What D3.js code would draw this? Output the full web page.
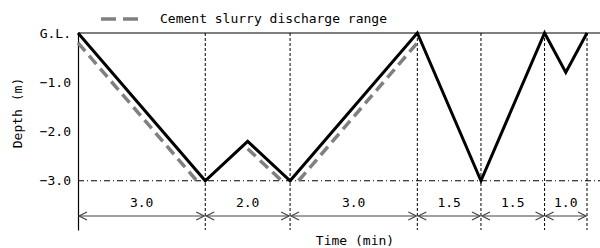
<!DOCTYPE html>
<html><head><meta charset="utf-8">
<script src="https://cdn.jsdelivr.net/npm/d3@7"></script>
<style>
html,body{margin:0;padding:0;background:#fff;}
svg{display:block;}
text{font-family:"DejaVu Sans Mono",monospace;font-size:13px;fill:#000;}
</style></head>
<body><svg id="c" width="600" height="248"></svg>
<script>
// Data
const segLabels = ["3.0","2.0","3.0","1.5","1.5","1.0"];
const segDurations = [3.0, 2.0, 3.0, 1.5, 1.5, 1.0];
const boreTime  = [0, 3, 4, 5, 8, 9.5, 11, 11.5, 12];
const boreDepth = [0, -3, -2.2, -3, 0, -3, 0, -0.8, 0];
// slurry discharge range: three separate runs (NaN = break)
const slurryTime  = [0, 2.8, NaN, 4.0, 4.8, NaN, 5.2, 8];
const slurryDepth = [-0.2, -3, NaN, -2.35, -3, NaN, -3, -0.2];
const yTickValues = [0, -1, -2, -3];
const yTickLabels = ["G.L.", "\u22121.0", "\u22122.0", "\u22123.0"];
const legendLabel = "Cement slurry discharge range";
const xTitle = "Time (min)";
const yTitle = "Depth (m)";

const svg = d3.select("#c");
const W = 600;
const x = d3.scaleLinear().domain([0, d3.sum(segDurations)]).range([78, 587]);
const y = d3.scaleLinear().domain([0, -4]).range([33, 230]);

const bounds = [0];
segDurations.forEach((d, i) => bounds.push(bounds[i] + d));

// top ground line
svg.append("line").attr("x1", x(0)).attr("x2", W).attr("y1", y(0)).attr("y2", y(0))
  .attr("stroke", "#000").attr("stroke-width", 1.2);

// -3.0 dash-dot line
svg.append("line").attr("x1", x(0)).attr("x2", W).attr("y1", y(-3)).attr("y2", y(-3))
  .attr("stroke", "#000").attr("stroke-width", 1).attr("stroke-dasharray", "6,3,1,3");

// vertical dashed lines
svg.selectAll(".vl").data(bounds.slice(1)).enter().append("line")
  .attr("x1", d => x(d)).attr("x2", d => x(d)).attr("y1", y(0)).attr("y2", y(-4))
  .attr("stroke", "#000").attr("stroke-width", 1).attr("stroke-dasharray", "3,2");

// y axis
const yAxis = d3.axisLeft(y).tickValues(yTickValues)
  .tickFormat((d, i) => yTickLabels[i]).tickSize(0).tickPadding(7);
const ga = svg.append("g").attr("transform", `translate(${x(0)},0)`).call(yAxis);
ga.select(".domain").attr("stroke", "#000").attr("stroke-width", 1.2);
ga.selectAll("text").style("font-family", "DejaVu Sans Mono, monospace").style("font-size", "13px");

// dimension arrows
const dimY = 216;
const dimColor = "#444";
const segs = segDurations.map((d, i) => ({a: bounds[i], b: bounds[i + 1], label: segLabels[i]}));
const dg = svg.append("g");
segs.forEach(s => {
  const x1 = x(s.a) + 1, x2 = x(s.b) - 1;
  dg.append("line").attr("x1", x1).attr("x2", x2).attr("y1", dimY).attr("y2", dimY)
    .attr("stroke", dimColor).attr("stroke-width", 1.2);
  dg.append("path").attr("d", `M${x1 + 8},${dimY - 4}L${x1},${dimY}L${x1 + 8},${dimY + 4}`)
    .attr("fill", "none").attr("stroke", dimColor).attr("stroke-width", 1.2);
  dg.append("path").attr("d", `M${x2 - 8},${dimY - 4}L${x2},${dimY}L${x2 - 8},${dimY + 4}`)
    .attr("fill", "none").attr("stroke", dimColor).attr("stroke-width", 1.2);
  dg.append("text").attr("x", (x(s.a) + x(s.b)) / 2).attr("y", 207)
    .attr("text-anchor", "middle").text(s.label);
});

// slurry range (gray dashed)
const line = d3.line().defined(d => !isNaN(d[0]) && !isNaN(d[1]))
  .x(d => x(d[0])).y(d => y(d[1]));
svg.append("path").datum(d3.zip(slurryTime, slurryDepth)).attr("d", line)
  .attr("fill", "none").attr("stroke", "#808080").attr("stroke-width", 3.5)
  .attr("stroke-dasharray", "11,6");

// bore path (black)
svg.append("path").datum(d3.zip(boreTime, boreDepth)).attr("d", line)
  .attr("fill", "none").attr("stroke", "#000").attr("stroke-width", 3)
  .attr("stroke-linejoin", "miter");

// legend
svg.append("line").attr("x1", 101).attr("x2", 140).attr("y1", 19).attr("y2", 19)
  .attr("stroke", "#808080").attr("stroke-width", 3.5).attr("stroke-dasharray", "15,7");
svg.append("text").attr("x", 160).attr("y", 23).text(legendLabel);

// axis titles
svg.append("text").attr("x", 355).attr("y", 245).attr("text-anchor", "middle").text(xTitle);
svg.append("text").attr("transform", "translate(22,113) rotate(-90)")
  .attr("text-anchor", "middle").text(yTitle);
</script></body></html>
